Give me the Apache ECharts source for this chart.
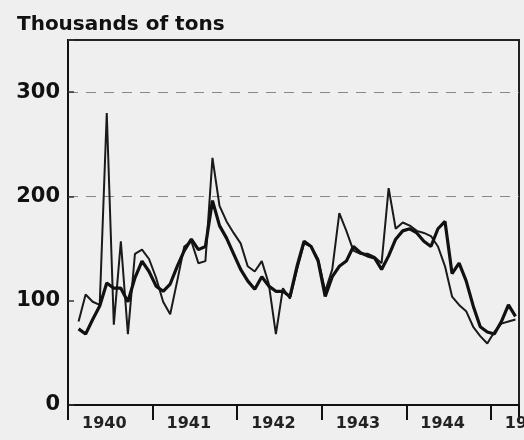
<!DOCTYPE html>
<html>
<head>
<meta charset="utf-8">
<script src="https://cdn.jsdelivr.net/npm/echarts@6/dist/echarts.min.js"></script>
<style>
html,body{margin:0;padding:0;background:#efefef;}
#c{width:524px;height:440px;}
</style>
</head>
<body>
<div id="c"></div>
<script>
// Month index (0 = Jan 1940), points placed at mid-month
var months = [];
for (var k = 1; k <= 63; k++) months.push(k);

var yearLabels = ['1940','1941','1942','1943','1944','1945'];
var yTicks = [0, 100, 200, 300];

// Thin, spiky series (thousands of tons)
var seriesThin = [80,106,99,96,280,77,157,68,145,149,140,122,99,87,119,152,157,136,138,237,
  191,176,165,155,133,128,138,116,68,112,102,130,155,152,140,109,130,184,167,148,
  145,145,142,136,208,169,175,172,167,165,162,152,133,104,96,90,75,66,59,70,
  78,80,82];
// Thick, smoother series
var seriesThick = [73,68,82,95,117,112,112,99,122,138,128,114,109,116,133,148,159,149,152,196,
  172,160,145,130,119,111,123,114,109,109,104,133,157,152,138,104,123,133,138,152,
  146,143,141,130,143,159,167,169,165,157,152,169,176,126,136,119,95,75,70,68,
  80,96,85];

function pairs(vals){
  return vals.map(function(v,i){ return [months[i] + 0.5, v]; });
}

var chart = echarts.init(document.getElementById('c'));
chart.setOption({
  backgroundColor: '#efefef',
  animation: false,
  title: {
    text: 'Thousands of tons',
    left: 12, top: 10,
    textStyle: {fontFamily: 'DejaVu Sans', fontWeight: 'bold', fontSize: 20, color: '#111'}
  },
  grid: {left: 68, top: 40, right: 5, bottom: 35, outerBoundsMode: 'none', containLabel: false,
    show: true, borderColor: '#222', borderWidth: 2, backgroundColor: 'transparent'},
  xAxis: {
    type: 'value', min: 0, max: 64, interval: 12,
    axisLine: {show: true, lineStyle: {color: '#111', width: 2}},
    axisTick: {show: true, inside: false, length: 15, lineStyle: {color: '#111', width: 2}},
    splitLine: {show: false},
    axisLabel: {
      show: true, align: 'left', margin: 11, padding: [0,0,0,14],
      fontFamily: 'DejaVu Sans', fontWeight: 'bold', fontSize: 16, color: '#222',
      showMaxLabel: true,
      formatter: function(v){
        if (v % 12 === 0 && v <= 60) return yearLabels[v/12];
        return '';
      }
    }
  },
  yAxis: {
    type: 'value', min: 0, max: 350, interval: 100,
    axisLine: {show: true, lineStyle: {color: '#111', width: 2}},
    axisTick: {show: true, inside: true, length: 6, lineStyle: {color: '#333', width: 1.5}},
    splitLine: {show: true, lineStyle: {color: ['transparent','transparent','#888','#888','#222'], type: [10,8], width: 1.2}},
    axisLabel: {
      margin: 8, fontFamily: 'DejaVu Sans', fontWeight: 'bold', fontSize: 21, color: '#111',
      formatter: function(v){ return yTicks.indexOf(v) >= 0 ? String(v) : ''; }
    }
  },
  series: [
    {type: 'line', data: pairs(seriesThin), showSymbol: false, lineStyle: {color: '#1a1a1a', width: 2}, z: 3},
    {type: 'line', data: pairs(seriesThick), showSymbol: false, lineStyle: {color: '#111', width: 3.2}, z: 4}
  ]
});
</script>
</body>
</html>
